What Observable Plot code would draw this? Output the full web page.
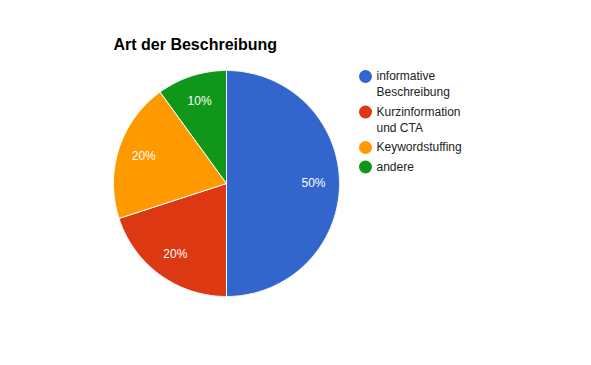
<!DOCTYPE html>
<html><head><meta charset="utf-8">
<script src="https://cdn.jsdelivr.net/npm/d3@7"></script>
<script src="https://cdn.jsdelivr.net/npm/@observablehq/plot@0.6"></script>
<style>body{margin:0;background:#fff}</style>
</head><body><div id="chart"></div>
<script>
const title = "Art der Beschreibung";
const categories = ["informative Beschreibung", "Kurzinformation und CTA", "Keywordstuffing", "andere"];
const legendLabels = [["informative", "Beschreibung"], ["Kurzinformation", "und CTA"], ["Keywordstuffing"], ["andere"]];
const values = [50, 20, 20, 10];
const colors = ["#3366cc", "#dc3912", "#ff9900", "#109618"];

// layout
const W = 591, H = 365, cx = 226, cy = 183, R = 113, labelR = 87;
const legX = 365, legTextX = 376, legY0 = 76, lineH = 16, entryGap = 3.5;

const total = d3.sum(values);
const slices = [];
let acc = 0;
categories.forEach((c, i) => {
  const a0 = acc / total * 2 * Math.PI; acc += values[i];
  const a1 = acc / total * 2 * Math.PI;
  slices.push({category: c, value: values[i], a0, a1, mid: (a0 + a1) / 2});
});
const pts = [];
slices.forEach(s => {
  pts.push({category: s.category, x: cx, y: cy});
  const n = Math.max(2, Math.ceil((s.a1 - s.a0) / (Math.PI / 360)));
  for (let k = 0; k <= n; k++) {
    const a = s.a0 + (s.a1 - s.a0) * k / n;
    pts.push({category: s.category, x: cx + R * Math.sin(a), y: cy - R * Math.cos(a)});
  }
  pts.push({category: s.category, x: cx, y: cy});
});

const legendDots = [], legendLines = [];
let ly = legY0;
categories.forEach((c, i) => {
  legendDots.push({category: c, y: ly});
  legendLabels[i].forEach((t, j) => legendLines.push({text: t, y: ly + j * lineH}));
  ly += legendLabels[i].length * lineH + entryGap;
});

const chart = Plot.plot({
  width: W, height: H, margin: 0,
  x: {domain: [0, W], range: [0, W], axis: null},
  y: {domain: [0, H], range: [0, H], axis: null},
  color: {domain: categories, range: colors},
  style: {fontFamily: "Arial, 'Liberation Sans', sans-serif", background: "#fff"},
  marks: [
    Plot.line(pts, {x: "x", y: "y", z: "category", fill: "category", stroke: "#fff", strokeWidth: 1, strokeLinejoin: "round", curve: "linear"}),
    Plot.text(slices, {
      x: d => cx + labelR * Math.sin(d.mid), y: d => cy - labelR * Math.cos(d.mid),
      text: d => Math.round(d.value / total * 100) + "%", fill: "#fff", fontSize: 12
    }),
    Plot.text([title], {x: () => 113, y: () => 44, text: d => d, textAnchor: "start", fontSize: 16, fontWeight: "bold", fill: "#000"}),
    Plot.dot(legendDots, {x: () => legX, y: "y", r: 6.5, fill: "category"}),
    Plot.text(legendLines, {x: () => legTextX, y: "y", text: "text", textAnchor: "start", fontSize: 12, fill: "#222"})
  ]
});
document.getElementById("chart").appendChild(chart);
</script>
</body></html>
